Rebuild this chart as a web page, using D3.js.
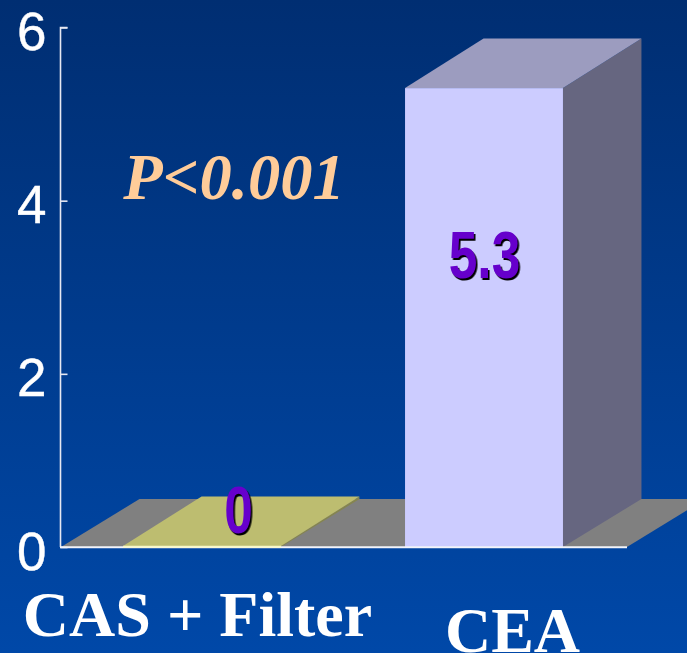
<!DOCTYPE html>
<html>
<head>
<meta charset="utf-8">
<style>
html,body{margin:0;padding:0;background:#003a8c;overflow:hidden}
svg{display:block}
.tick text{font-family:"Liberation Sans",Arial,sans-serif}
</style>
<script src="https://cdn.jsdelivr.net/npm/d3@7"></script>
</head>
<body>
<div id="chart"></div>
<script>
const categories = ["CAS + Filter", "CEA"];
const values = [0, 5.3];
const valueLabels = ["0", "5.3"];
const yTicks = [0, 2, 4, 6];
const pLabel = "P<0.001";

const W = 687, H = 653;
const dx = 78.5, dy = -49.5, floorDy = -48;
const axisStart = 61, axisEnd = 627;
const svg = d3.select("#chart").append("svg").attr("width", W).attr("height", H);

const defs = svg.append("defs");
const g = defs.append("linearGradient").attr("id", "bg").attr("x1", 0).attr("y1", 0).attr("x2", 0).attr("y2", 1);
g.append("stop").attr("offset", "0%").attr("stop-color", "#002e72");
g.append("stop").attr("offset", "100%").attr("stop-color", "#0048a8");
svg.append("rect").attr("width", W).attr("height", H).attr("fill", "url(#bg)");

const y = d3.scaleLinear().domain([0, 6]).range([547, 27.5]);
const x = d3.scaleBand().domain(categories).range([61, 625]).paddingInner(0.44).paddingOuter(0.22);
const base = y(0);
const pts = a => a.map(p => p.join(",")).join(" ");

// floor
svg.append("polygon")
  .attr("points", pts([[axisStart, base], [axisStart + dx, base + floorDy], [axisEnd + dx, base + floorDy], [axisEnd, base]]))
  .attr("fill", "#808080");

const rows = categories.map((c, i) => ({c, v: values[i], label: valueLabels[i]}));
const palette = {
  "CAS + Filter": {front: "#f4f4b4", top: "#bdbd70", side: "#85854f"},
  "CEA": {front: "#ccccff", top: "#9c9cbf", side: "#666680"}
};
const topY = d => y(d.v) - (d.v === 0 ? 1 : 0);
const bars = svg.selectAll("g.bar").data(rows).join("g").attr("class", "bar");
// side
bars.append("polygon")
  .attr("points", d => {
    const r = x(d.c) + x.bandwidth(), t = topY(d);
    return pts([[r, base], [r + dx, base + floorDy], [r + dx, t + dy], [r, t]]);
  })
  .attr("fill", d => palette[d.c].side);
// top
bars.append("polygon")
  .attr("points", d => {
    const l = x(d.c), r = l + x.bandwidth(), t = topY(d);
    return pts([[l, t], [l + dx, t + dy], [r + dx, t + dy], [r, t]]);
  })
  .attr("fill", d => palette[d.c].top);
// front
bars.append("rect")
  .attr("x", d => x(d.c))
  .attr("y", d => topY(d))
  .attr("width", x.bandwidth())
  .attr("height", d => base - topY(d))
  .attr("fill", d => palette[d.c].front);

// axes
const yAxis = d3.axisLeft(y).tickValues(yTicks).tickSize(-7).tickPadding(0).tickFormat(d3.format("d"));
const ay = svg.append("g").attr("transform", "translate(60.5,0)").call(yAxis);
ay.select(".domain").attr("stroke", "#e6e8f2").attr("stroke-width", 1.6).attr("d", `M7,${y(6)}H0V${y(0)}`);
ay.selectAll(".tick line").attr("stroke", "#e6e8f2").attr("stroke-width", 1.6);
ay.selectAll(".tick text")
  .attr("font-size", 53).attr("fill", "#fff").attr("text-anchor", "end")
  .attr("stroke", "#fff").attr("stroke-width", 0.4)
  .attr("x", -14).attr("dy", "0.35em")
  .attr("transform", "translate(0,3.5)");
svg.append("line").attr("x1", 60).attr("x2", axisEnd).attr("y1", base + 0.3).attr("y2", base + 0.3)
  .attr("stroke", "#f2f4fa").attr("stroke-width", 2);
svg.append("line").attr("x1", x(categories[0])).attr("x2", x(categories[0]) + x.bandwidth()).attr("y1", base - 0.3).attr("y2", base - 0.3)
  .attr("stroke", "#f8f8c8").attr("stroke-width", 2);

// category labels
const catY = {"CAS + Filter": 636, "CEA": 652};
const catX = {"CAS + Filter": 197.5, "CEA": 512.5};
svg.selectAll("text.cat").data(categories).join("text").attr("class", "cat")
  .attr("x", d => catX[d]).attr("y", d => catY[d])
  .attr("text-anchor", "middle")
  .attr("font-family", "'Liberation Serif',serif").attr("font-weight", "bold").attr("font-size", 64)
  .attr("fill", "#fff").text(d => d);

// value labels (condensed, with hard shadow)
const labelPos = {"CAS + Filter": [238.5, 533], "CEA": [484.5, 278]};
svg.selectAll("text.val").data(rows).join("text").attr("class", "val")
  .attr("transform", d => `translate(${labelPos[d.c][0]},${labelPos[d.c][1]}) scale(0.78,1)`)
  .attr("text-anchor", "middle")
  .attr("font-family", "'Liberation Sans',sans-serif").attr("font-weight", "bold").attr("font-size", 66)
  .attr("fill", "#6600cc")
  .style("filter", "drop-shadow(2px 2px 0 #000)")
  .text(d => d.label);

// p-value
svg.append("text").attr("x", 234).attr("y", 199).attr("text-anchor", "middle")
  .attr("font-family", "'Liberation Serif',serif").attr("font-weight", "bold").attr("font-style", "italic")
  .attr("font-size", 64.5).attr("fill", "#ffcc99").text(pLabel);
</script>
</body>
</html>
